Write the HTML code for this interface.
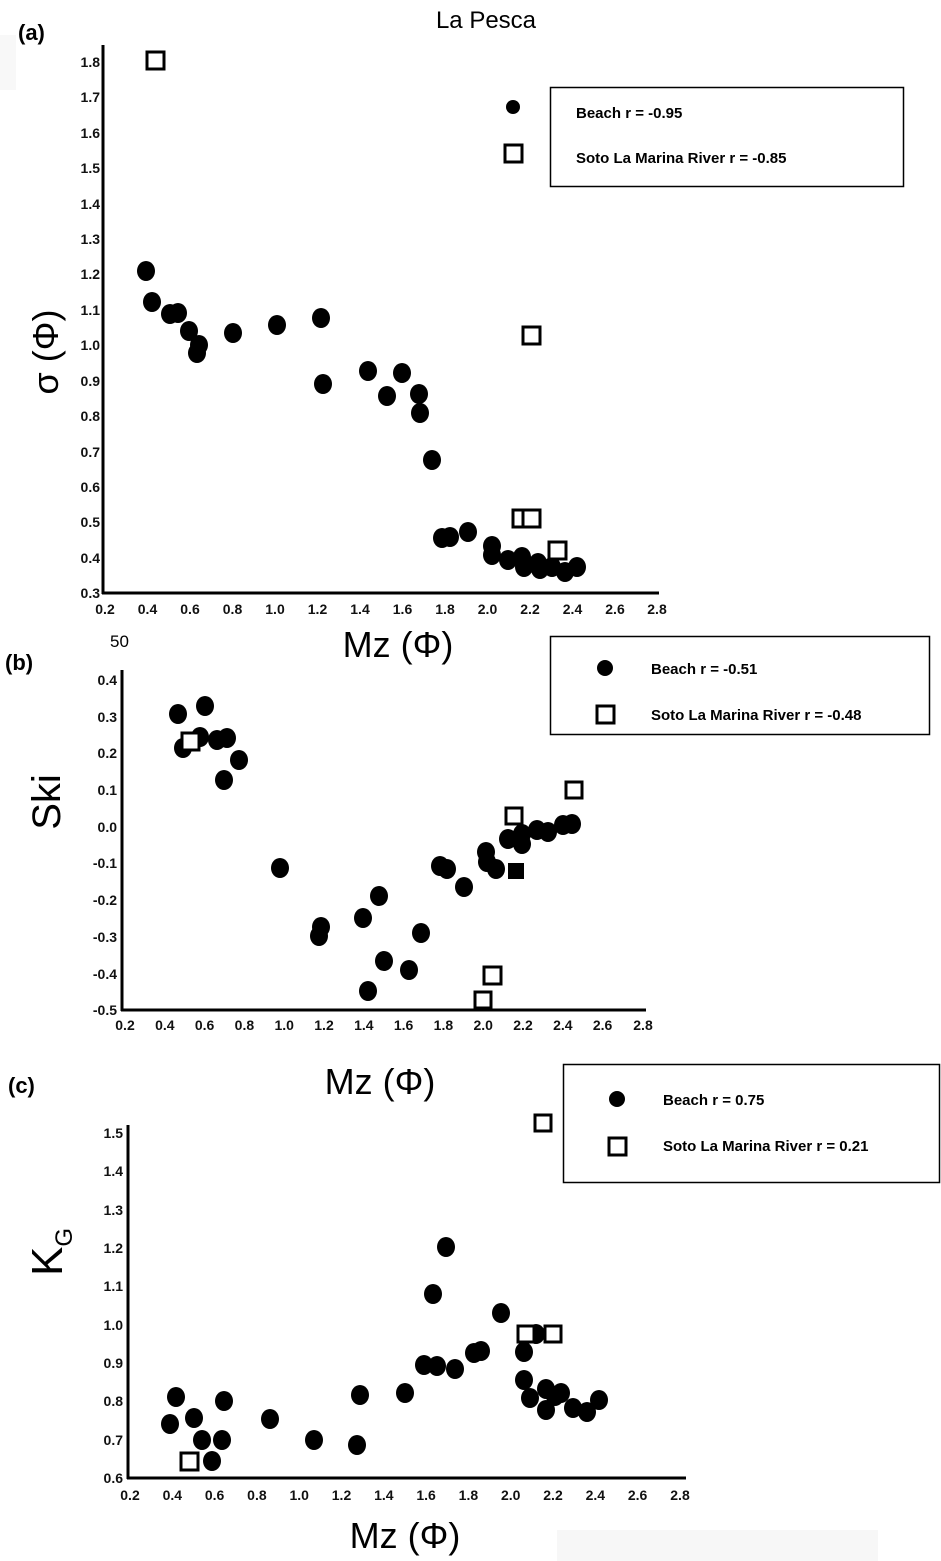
<!DOCTYPE html>
<html><head><meta charset="utf-8"><style>
body{margin:0;background:#fff}
svg{display:block;font-family:"Liberation Sans",sans-serif}
.t{font-size:14px;font-weight:bold;fill:#111}
.yt{text-anchor:end}
.xt{text-anchor:middle}
.lg{font-size:15px;font-weight:bold}
.sq{fill:#fff;stroke:#000;stroke-width:3}
</style></head><body>
<svg width="941" height="1561" viewBox="0 0 941 1561">
<rect x="557" y="1530" width="321" height="31" fill="#f7f7f7"/>
<rect x="0" y="35" width="16" height="55" fill="#f8f8f8"/>
<text x="486" y="28" font-size="24" text-anchor="middle">La Pesca</text>
<text x="18" y="40" font-size="22" font-weight="bold">(a)</text>
<text x="5" y="670" font-size="22" font-weight="bold">(b)</text>
<text x="8" y="1093" font-size="22" font-weight="bold">(c)</text>
<text x="110" y="647" font-size="17">50</text>

<!-- Panel a axes -->
<g stroke="#000" stroke-width="3"><line x1="103" y1="45" x2="103" y2="594"/><line x1="102" y1="593" x2="659" y2="593"/></g>
<g class="t xt">
<text x="105" y="614">0.2</text><text x="147.5" y="614">0.4</text><text x="190" y="614">0.6</text><text x="232.5" y="614">0.8</text><text x="275" y="614">1.0</text><text x="317.5" y="614">1.2</text><text x="360" y="614">1.4</text><text x="402.5" y="614">1.6</text><text x="445" y="614">1.8</text><text x="487.5" y="614">2.0</text><text x="530" y="614">2.2</text><text x="572.5" y="614">2.4</text><text x="615" y="614">2.6</text><text x="657" y="614">2.8</text>
</g>
<g class="t yt">
<text x="100" y="598">0.3</text><text x="100" y="563">0.4</text><text x="100" y="527">0.5</text><text x="100" y="492">0.6</text><text x="100" y="457">0.7</text><text x="100" y="421">0.8</text><text x="100" y="386">0.9</text><text x="100" y="350">1.0</text><text x="100" y="315">1.1</text><text x="100" y="279">1.2</text><text x="100" y="244">1.3</text><text x="100" y="209">1.4</text><text x="100" y="173">1.5</text><text x="100" y="138">1.6</text><text x="100" y="102">1.7</text><text x="100" y="67">1.8</text>
</g>
<text x="398" y="657" font-size="36" text-anchor="middle">Mz (Φ)</text>
<text transform="translate(58,352) rotate(-90)" font-size="36" text-anchor="middle">σ (Φ)</text>
<g>
<ellipse cx="146" cy="271" rx="9" ry="10"/><ellipse cx="152" cy="302" rx="9" ry="10"/><ellipse cx="170" cy="314" rx="9" ry="10"/><ellipse cx="178" cy="313" rx="9" ry="10"/><ellipse cx="189" cy="331" rx="9" ry="10"/><ellipse cx="199" cy="345" rx="9" ry="10"/><ellipse cx="197" cy="353" rx="9" ry="10"/><ellipse cx="233" cy="333" rx="9" ry="10"/><ellipse cx="277" cy="325" rx="9" ry="10"/><ellipse cx="321" cy="318" rx="9" ry="10"/><ellipse cx="323" cy="384" rx="9" ry="10"/><ellipse cx="368" cy="371" rx="9" ry="10"/><ellipse cx="387" cy="396" rx="9" ry="10"/><ellipse cx="402" cy="373" rx="9" ry="10"/><ellipse cx="419" cy="394" rx="9" ry="10"/><ellipse cx="420" cy="413" rx="9" ry="10"/><ellipse cx="432" cy="460" rx="9" ry="10"/><ellipse cx="442" cy="538" rx="9" ry="10"/><ellipse cx="450" cy="537" rx="9" ry="10"/><ellipse cx="468" cy="532" rx="9" ry="10"/><ellipse cx="492" cy="546" rx="9" ry="10"/><ellipse cx="492" cy="555" rx="9" ry="10"/><ellipse cx="508" cy="560" rx="9" ry="10"/><ellipse cx="522" cy="557" rx="9" ry="10"/><ellipse cx="524" cy="567" rx="9" ry="10"/><ellipse cx="538" cy="563" rx="9" ry="10"/><ellipse cx="540" cy="569" rx="9" ry="10"/><ellipse cx="552" cy="567" rx="9" ry="10"/><ellipse cx="565" cy="572" rx="9" ry="10"/><ellipse cx="577" cy="567" rx="9" ry="10"/>
<ellipse cx="513" cy="107" rx="7" ry="7"/>
</g>
<g class="sq">
<rect x="147" y="52" width="17" height="17"/><rect x="505" y="145" width="17" height="17"/><rect x="523" y="327" width="17" height="17"/><rect x="513" y="510" width="17" height="17"/><rect x="523" y="510" width="17" height="17"/><rect x="549" y="542" width="17" height="17"/>
</g>
<rect x="550.5" y="87.5" width="353" height="99" fill="none" stroke="#000" stroke-width="1.5"/>
<text class="lg" x="576" y="118">Beach  r = -0.95</text>
<text class="lg" x="576" y="163">Soto La Marina  River  r = -0.85</text>

<!-- Panel b -->
<g stroke="#000" stroke-width="3"><line x1="122" y1="670" x2="122" y2="1011"/><line x1="121" y1="1010" x2="646" y2="1010"/></g>
<g class="t xt">
<text x="125" y="1030">0.2</text><text x="164.8" y="1030">0.4</text><text x="204.6" y="1030">0.6</text><text x="244.4" y="1030">0.8</text><text x="284.2" y="1030">1.0</text><text x="324" y="1030">1.2</text><text x="363.8" y="1030">1.4</text><text x="403.6" y="1030">1.6</text><text x="443.4" y="1030">1.8</text><text x="483.2" y="1030">2.0</text><text x="523" y="1030">2.2</text><text x="562.8" y="1030">2.4</text><text x="602.6" y="1030">2.6</text><text x="643" y="1030">2.8</text>
</g>
<g class="t yt">
<text x="117" y="685">0.4</text><text x="117" y="722">0.3</text><text x="117" y="758">0.2</text><text x="117" y="795">0.1</text><text x="117" y="832">0.0</text><text x="117" y="868">-0.1</text><text x="117" y="905">-0.2</text><text x="117" y="942">-0.3</text><text x="117" y="979">-0.4</text><text x="117" y="1015">-0.5</text>
</g>
<text x="380" y="1094" font-size="36" text-anchor="middle">Mz (Φ)</text>
<text transform="translate(60,802) rotate(-90)" font-size="40" text-anchor="middle">Ski</text>
<g>
<ellipse cx="178" cy="714" rx="9" ry="10"/><ellipse cx="183" cy="748" rx="9" ry="10"/><ellipse cx="205" cy="706" rx="9" ry="10"/><ellipse cx="200" cy="737" rx="9" ry="10"/><ellipse cx="217" cy="740" rx="9" ry="10"/><ellipse cx="227" cy="738" rx="9" ry="10"/><ellipse cx="224" cy="780" rx="9" ry="10"/><ellipse cx="239" cy="760" rx="9" ry="10"/><ellipse cx="280" cy="868" rx="9" ry="10"/><ellipse cx="319" cy="936" rx="9" ry="10"/><ellipse cx="321" cy="927" rx="9" ry="10"/><ellipse cx="363" cy="918" rx="9" ry="10"/><ellipse cx="379" cy="896" rx="9" ry="10"/><ellipse cx="368" cy="991" rx="9" ry="10"/><ellipse cx="384" cy="961" rx="9" ry="10"/><ellipse cx="409" cy="970" rx="9" ry="10"/><ellipse cx="421" cy="933" rx="9" ry="10"/><ellipse cx="440" cy="866" rx="9" ry="10"/><ellipse cx="447" cy="869" rx="9" ry="10"/><ellipse cx="464" cy="887" rx="9" ry="10"/><ellipse cx="486" cy="852" rx="9" ry="10"/><ellipse cx="487" cy="862" rx="9" ry="10"/><ellipse cx="496" cy="869" rx="9" ry="10"/><ellipse cx="508" cy="839" rx="9" ry="10"/><ellipse cx="522" cy="834" rx="9" ry="10"/><ellipse cx="522" cy="844" rx="9" ry="10"/><ellipse cx="537" cy="830" rx="9" ry="10"/><ellipse cx="548" cy="832" rx="9" ry="10"/><ellipse cx="563" cy="825" rx="9" ry="10"/><ellipse cx="572" cy="824" rx="9" ry="10"/>
<rect x="508" y="863" width="16" height="16"/>
<ellipse cx="605" cy="668" rx="8" ry="8"/>
</g>
<g class="sq">
<rect x="182" y="733" width="17" height="17"/><rect x="506" y="808" width="16" height="16"/><rect x="566" y="782" width="16" height="16"/><rect x="484" y="967" width="17" height="17"/><rect x="475" y="992" width="16" height="16"/><rect x="597" y="706" width="17" height="17"/>
</g>
<rect x="550.5" y="636.5" width="379" height="98" fill="none" stroke="#000" stroke-width="1.5"/>
<text class="lg" x="651" y="674">Beach  r = -0.51</text>
<text class="lg" x="651" y="720">Soto La Marina  River  r = -0.48</text>

<!-- Panel c -->
<g stroke="#000" stroke-width="3"><line x1="128" y1="1125" x2="128" y2="1479"/><line x1="127" y1="1478" x2="686" y2="1478"/></g>
<g class="t xt">
<text x="130" y="1500">0.2</text><text x="172.3" y="1500">0.4</text><text x="214.6" y="1500">0.6</text><text x="256.9" y="1500">0.8</text><text x="299.2" y="1500">1.0</text><text x="341.5" y="1500">1.2</text><text x="383.8" y="1500">1.4</text><text x="426.1" y="1500">1.6</text><text x="468.4" y="1500">1.8</text><text x="510.7" y="1500">2.0</text><text x="553" y="1500">2.2</text><text x="595.3" y="1500">2.4</text><text x="637.6" y="1500">2.6</text><text x="680" y="1500">2.8</text>
</g>
<g class="t yt">
<text x="123" y="1138">1.5</text><text x="123" y="1176">1.4</text><text x="123" y="1215">1.3</text><text x="123" y="1253">1.2</text><text x="123" y="1291">1.1</text><text x="123" y="1330">1.0</text><text x="123" y="1368">0.9</text><text x="123" y="1406">0.8</text><text x="123" y="1445">0.7</text><text x="123" y="1483">0.6</text>
</g>
<text x="405" y="1548" font-size="36" text-anchor="middle">Mz (Φ)</text>
<g transform="translate(62,1252) rotate(-90)"><text font-size="44" text-anchor="middle">K<tspan font-size="24" dy="10">G</tspan></text></g>
<g>
<ellipse cx="170" cy="1424" rx="9" ry="10"/><ellipse cx="176" cy="1397" rx="9" ry="10"/><ellipse cx="194" cy="1418" rx="9" ry="10"/><ellipse cx="202" cy="1440" rx="9" ry="10"/><ellipse cx="212" cy="1461" rx="9" ry="10"/><ellipse cx="222" cy="1440" rx="9" ry="10"/><ellipse cx="224" cy="1401" rx="9" ry="10"/><ellipse cx="270" cy="1419" rx="9" ry="10"/><ellipse cx="314" cy="1440" rx="9" ry="10"/><ellipse cx="357" cy="1445" rx="9" ry="10"/><ellipse cx="360" cy="1395" rx="9" ry="10"/><ellipse cx="405" cy="1393" rx="9" ry="10"/><ellipse cx="424" cy="1365" rx="9" ry="10"/><ellipse cx="437" cy="1366" rx="9" ry="10"/><ellipse cx="433" cy="1294" rx="9" ry="10"/><ellipse cx="446" cy="1247" rx="9" ry="10"/><ellipse cx="455" cy="1369" rx="9" ry="10"/><ellipse cx="474" cy="1353" rx="9" ry="10"/><ellipse cx="481" cy="1351" rx="9" ry="10"/><ellipse cx="501" cy="1313" rx="9" ry="10"/><ellipse cx="524" cy="1352" rx="9" ry="10"/><ellipse cx="524" cy="1380" rx="9" ry="10"/><ellipse cx="530" cy="1398" rx="9" ry="10"/><ellipse cx="536" cy="1334" rx="9" ry="10"/><ellipse cx="546" cy="1389" rx="9" ry="10"/><ellipse cx="546" cy="1410" rx="9" ry="10"/><ellipse cx="555" cy="1396" rx="9" ry="10"/><ellipse cx="561" cy="1393" rx="9" ry="10"/><ellipse cx="573" cy="1408" rx="9" ry="10"/><ellipse cx="587" cy="1412" rx="9" ry="10"/><ellipse cx="599" cy="1400" rx="9" ry="10"/>
<ellipse cx="617" cy="1099" rx="8" ry="8"/>
</g>
<g class="sq">
<rect x="181" y="1453" width="17" height="17"/><rect x="518" y="1326" width="16" height="16"/><rect x="545" y="1326" width="16" height="16"/><rect x="535" y="1115" width="16" height="16"/><rect x="609" y="1138" width="17" height="17"/>
</g>
<rect x="563.5" y="1064.5" width="376" height="118" fill="none" stroke="#000" stroke-width="1.5"/>
<text class="lg" x="663" y="1105">Beach  r = 0.75</text>
<text class="lg" x="663" y="1151">Soto La Marina  River  r = 0.21</text>
</svg>
</body></html>
